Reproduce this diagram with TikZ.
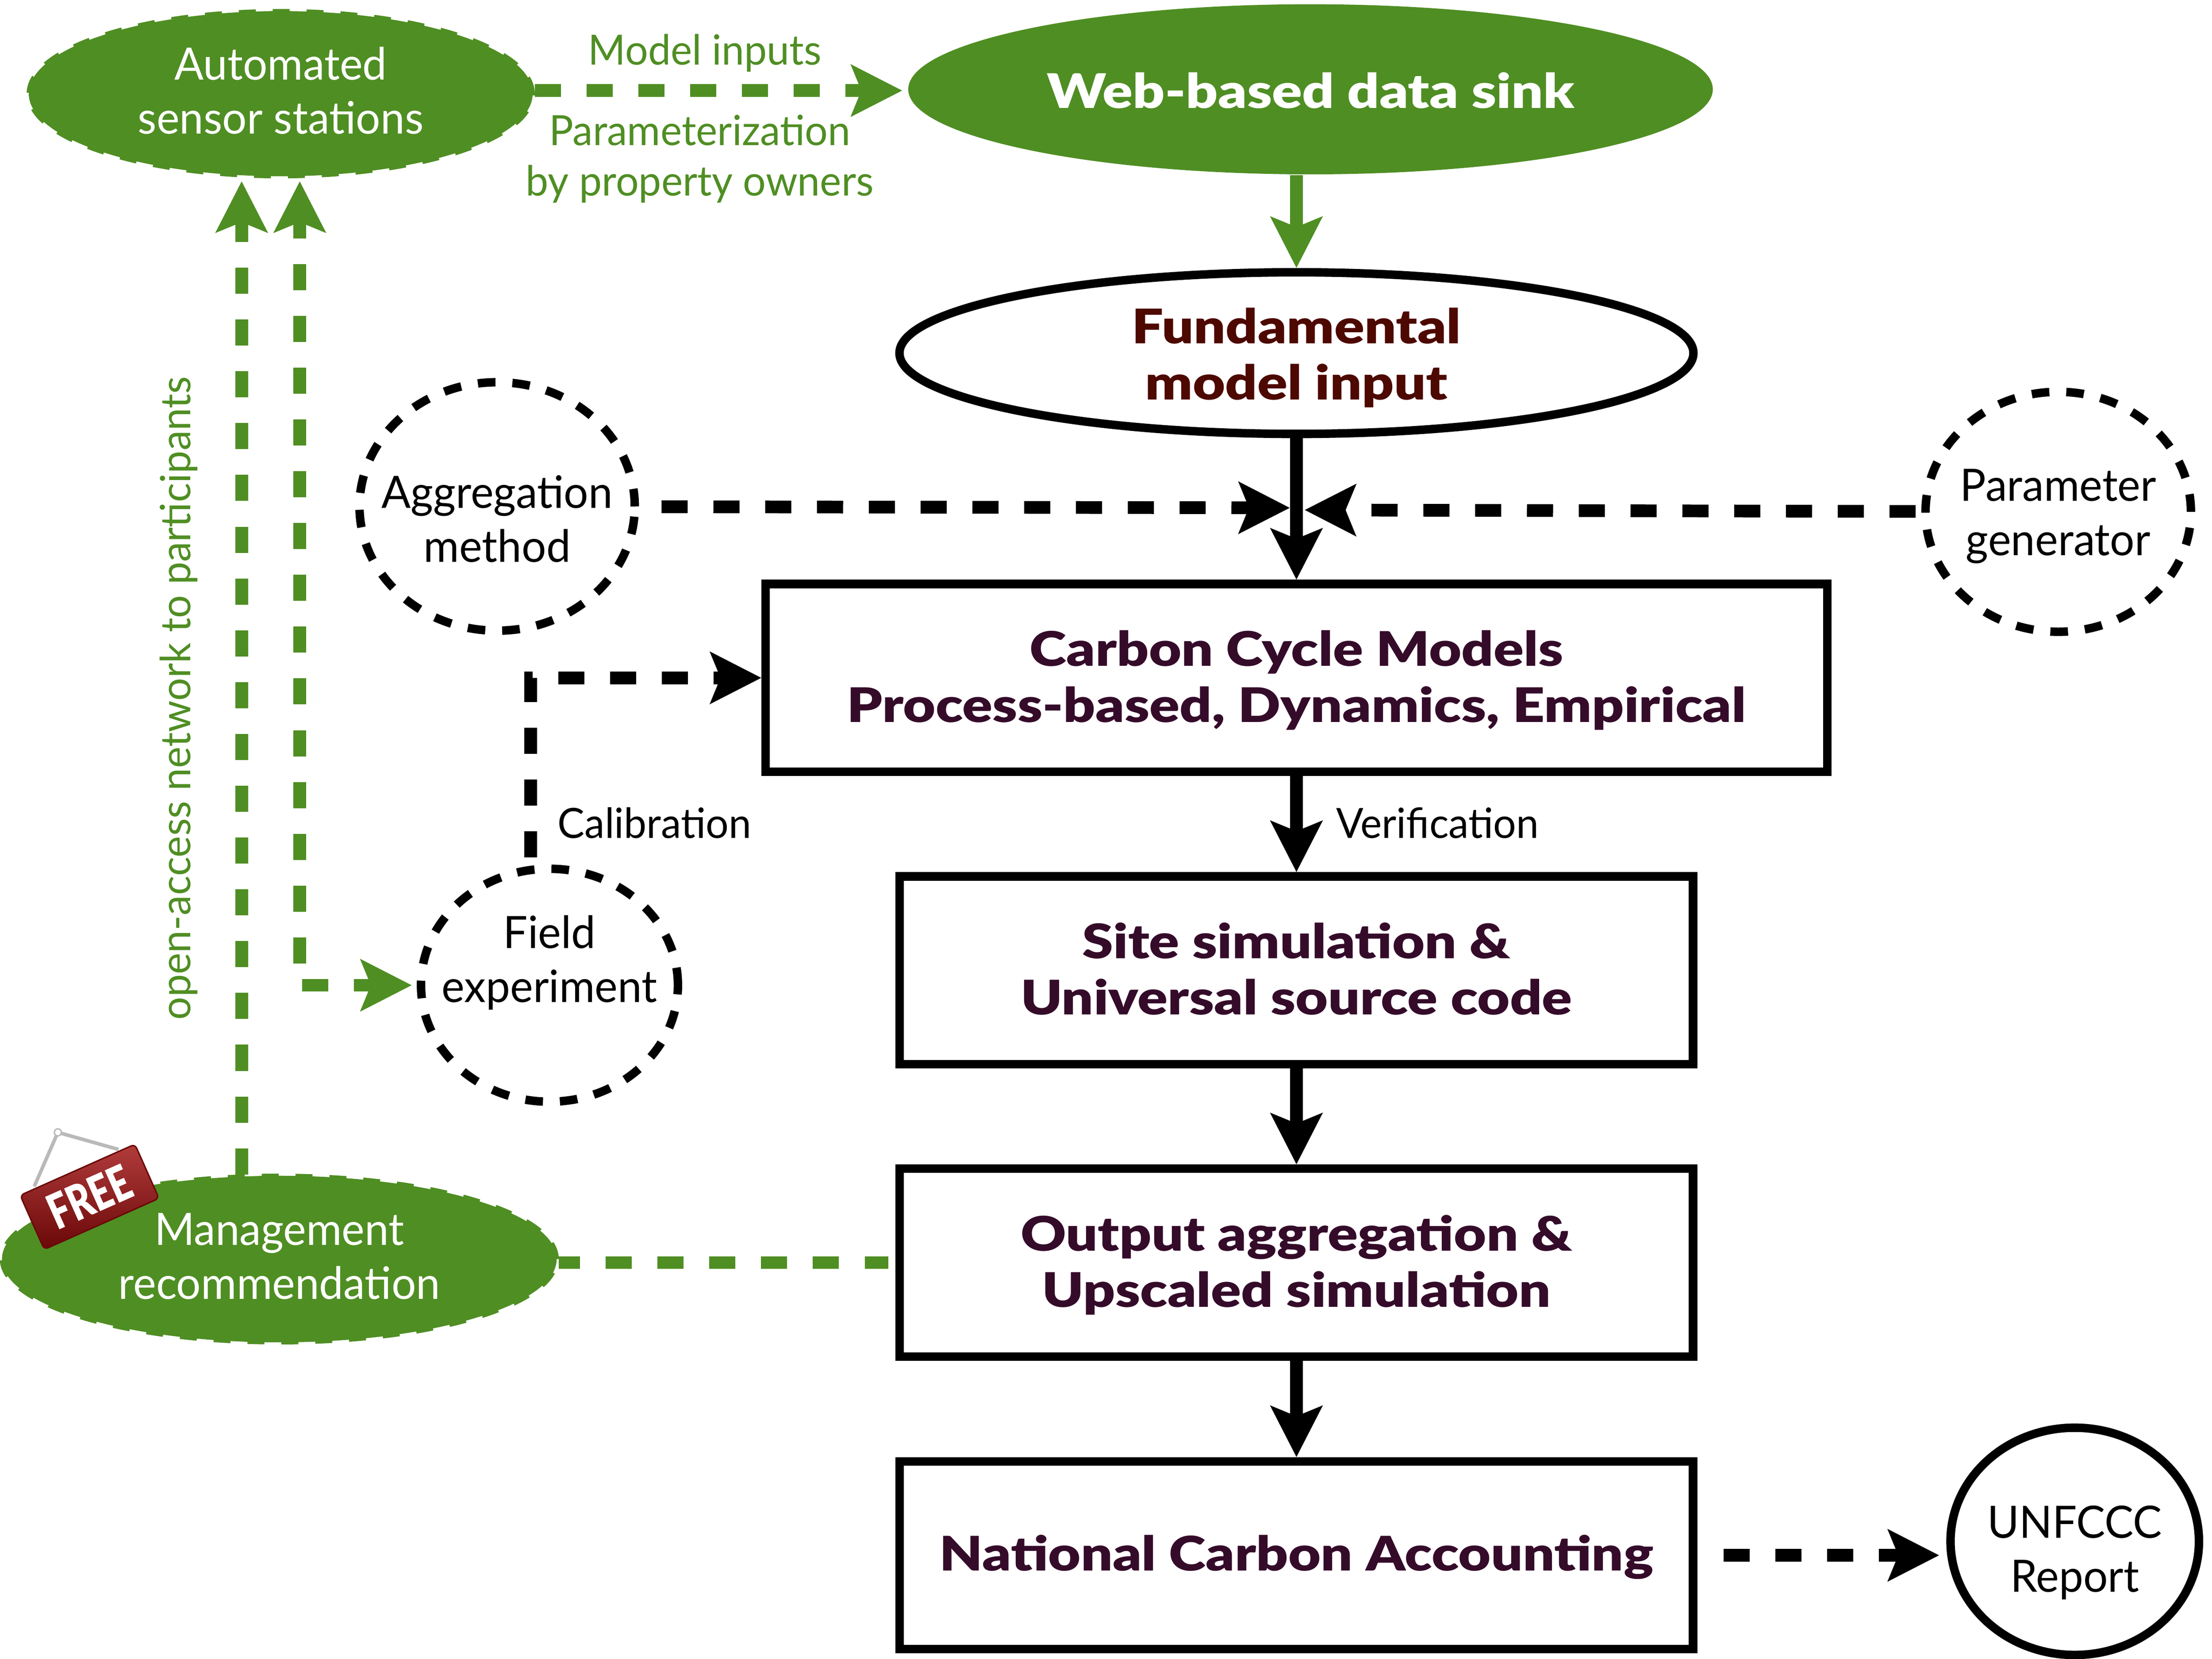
\documentclass[tikz,border=0pt]{standalone}
\usepackage{fontspec}
\setmainfont[FakeStretch=0.97]{Lato}
\newfontfamily\boldfont[FakeStretch=1.175]{Lato Black}
\newfontfamily\freefont[FakeStretch=0.75]{Lato Black}
\usetikzlibrary{arrows.meta}
\usetikzlibrary{positioning}
\usetikzlibrary{shapes.geometric}
\definecolor{leaf}{HTML}{4F8E23}
\definecolor{wine}{HTML}{4D0800}
\definecolor{plum}{HTML}{350B2A}
\definecolor{tagtop}{HTML}{B23C3C}
\definecolor{tagmid}{HTML}{961010}
\definecolor{tagdark}{HTML}{6A0808}

\begin{document}
\begin{tikzpicture}[x=0.01cm,y=-0.01cm,>={Stealth[length=0.36cm,width=0.36cm,inset=0.07cm]}]
	\tikzset{blob/.style = {shape=ellipse, draw=leaf, fill=leaf, line width=0.03cm, dash pattern=on 0.12cm off 0.12cm, text=white, align=center, inner sep=0pt, font=\fontsize{9}{10.9}\selectfont}}
	\tikzset{ring/.style = {shape=ellipse, draw, line width=0.06cm, dash pattern=on 0.125cm off 0.12cm, align=center, inner ysep=0pt, inner xsep=-0.4cm, font=\fontsize{9}{10.9}\selectfont}}
	\tikzset{modelbox/.style = {shape=rectangle, draw, line width=0.06cm, text=plum, align=center, inner sep=0pt, text depth=0pt, font=\boldfont\fontsize{9.6}{11.35}\selectfont}}
	\tikzset{note/.style = {anchor=base, inner sep=0pt, font=\fontsize{8.4}{10.15}\selectfont}}
	\tikzset{flow/.style = {->, line width=0.09cm}}
	\tikzset{dashflow/.style = {line width=0.09cm, dash pattern=on 0.185cm off 0.182cm}}
	\tikzset{greenflow/.style = {dashflow, leaf}}
	\useasboundingbox (0,0) rectangle (1568,1176);

	% ovals on the left and on top
	\node[blob, minimum width=3.57cm, minimum height=1.17cm, text height=0.572cm, text depth=0pt] (AUTO) at (199,66.4) {Automated\\sensor stations};
	\node[shape=ellipse, fill=leaf, text=white, minimum width=5.7cm, minimum height=1.205cm, inner sep=0pt, text height=0.27cm, text depth=0pt, font=\boldfont\fontsize{9.6}{11.35}\selectfont] (WEB) at (929,63.3) {Web-based data sink};
	\node[shape=ellipse, draw, line width=0.06cm, text=wine, align=center, minimum width=5.625cm, minimum height=1.145cm, inner sep=0pt, text height=0.662cm, text depth=0pt, font=\boldfont\fontsize{9.6}{11.35}\selectfont] (FUND) at (919,250.3) {Fundamental\\model input};
	\node[ring, minimum width=1.95cm, minimum height=1.76cm, text height=0.79cm, text depth=0pt] (AGGR) at (352.4,359) {Aggregation\\method};
	\node[ring, minimum width=1.88cm, minimum height=1.70cm, text height=0.616cm, text depth=0pt] (PARAM) at (1459,362.8) {Parameter\\generator};
	\node[ring, minimum width=1.82cm, minimum height=1.65cm, text height=0.24cm, text depth=0pt] (FIELD) at (389.5,698.4) {Field\\experiment};
	\node[blob, minimum width=3.93cm, minimum height=1.18cm, text height=0.57cm, text depth=0pt] (MGMT) at (198,892.5) {Management\\recommendation};
	\node[ring, solid, minimum width=1.76cm, minimum height=1.61cm, text height=0.716cm, text depth=0pt] (UNFCCC) at (1470.7,1092.6) {UNFCCC\\Report};

	% model chain
	\node[modelbox, minimum width=7.52cm, minimum height=1.33cm, text height=0.63cm] (CARBON) at (919,480.5) {Carbon Cycle Models\\Process-based, Dynamics, Empirical};
	\node[modelbox, minimum width=5.62cm, minimum height=1.33cm, text height=0.63cm] (SITE) at (919,687.8) {Site simulation \&\\Universal source code};
	\node[modelbox, minimum width=5.62cm, minimum height=1.33cm, text height=0.63cm] (OUTPUT) at (919,895) {Output aggregation \&\\Upscaled simulation};
	\node[modelbox, minimum width=5.62cm, minimum height=1.33cm, text height=0.22cm] (NATION) at (919,1102.5) {National Carbon Accounting};

	\coordinate (AUTOOUT) at (379,64.2);
	\coordinate (AGGRIN) at (914.4,360);
	\coordinate (PARAMIN) at (924.8,361.5);
	\coordinate (TRUNK) at (212.5,683);
	\coordinate (FIELDIN) at (214.3,698.4);

	% connectors
	\draw[flow, leaf] (WEB.south -| FUND.north) -- (FUND.north);
	\draw[flow] (FUND) -- (CARBON);
	\draw[flow] (CARBON) -- (SITE);
	\draw[flow] (SITE) -- (OUTPUT);
	\draw[flow] (OUTPUT) -- (NATION);
	\draw[dashflow, ->, shorten <=0.16cm] (AGGR) -- (AGGRIN);
	\draw[dashflow, ->, shorten <=0.04cm] (PARAM) -- (PARAMIN);
	\draw[dashflow, ->, shorten <=0.06cm] (FIELD.99) |- (CARBON.west);
	\draw[dashflow, ->, shorten <=0.185cm, shorten >=0.05cm] (NATION) -- (UNFCCC.west |- NATION);
	\draw[greenflow, ->, shorten >=0.035cm] (AUTOOUT) -- (AUTOOUT -| WEB.west);
	\draw[greenflow, dash phase=0.035cm, shorten >=0.05cm] (MGMT.east |- OUTPUT) -- (OUTPUT);
	\draw[greenflow, ->, shorten >=0.02cm] (MGMT.114) -- (MGMT.114 |- AUTO.south);
	\draw[greenflow, ->, shorten >=0.02cm] (TRUNK) -- (TRUNK |- AUTO.south);
	\draw[greenflow, ->, shorten >=0.035cm] (FIELDIN) -- (FIELD.west);

	% labels
	\node[note, text=leaf] (LABINPUT) at (499.7,46) {Model inputs};
	\node[note, text=leaf, align=center] (LABPARAM) at (496,138.8) {Parameterization\\by property owners};
	\node[note, text=leaf, rotate=90] (LABOPEN) at (135,495) {open-access network to participants};
	\node[note] (LABCALIB) at (464,594) {Calibration};
	\node[note] (LABVERIF) at (1019,594) {Verification};

	% hanging sign
	\draw[gray!55, line width=0.025cm] (24.3,841) -- (41,802.7) -- (84,814.8);
	\fill[white, draw=gray!55, line width=0.01cm] (41,802.7) circle (2.5);
	\node[rotate=24, draw=tagdark, line width=0.01cm, rounded corners=0.03cm, minimum width=0.89cm, minimum height=0.42cm, top color=tagtop, middle color=tagmid, bottom color=tagdark, text=white, inner sep=0pt, font=\freefont\fontsize{9.8}{9.8}\selectfont] (FREETAG) at (63.5,848.4) {FREE};
\end{tikzpicture}
\end{document}
